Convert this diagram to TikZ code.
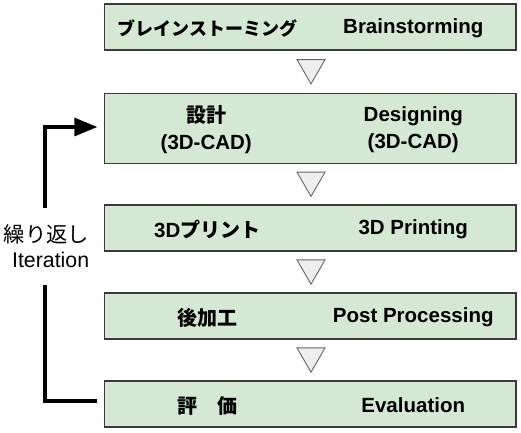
\documentclass[tikz,border=0pt]{standalone}
\usepackage{fontspec}
\setmainfont{Liberation Sans}
\newfontfamily\cjk{Noto Sans CJK JP}
\usetikzlibrary{arrows.meta,shapes.geometric,calc}
\definecolor{boxfill}{HTML}{D5E8D4}
\definecolor{boxline}{HTML}{3A3A3A}
\definecolor{trifill}{HTML}{EEEEEE}
\definecolor{triline}{HTML}{666666}
\tikzset{
  stepbox/.style={draw=boxline, fill=boxfill, line width=1.3bp, minimum width=411.5bp, inner sep=0pt},
  jtxt/.style={font=\cjk\bfseries\fontsize{20bp}{27bp}\selectfont, align=center, inner sep=0pt},
  etxt/.style={font=\bfseries\fontsize{20.5bp}{27bp}\selectfont, align=center, inner sep=0pt},
  downtri/.style={regular polygon, regular polygon sides=3, shape border rotate=180, draw=triline, fill=trifill, line width=0.9bp, minimum size=32.3bp, inner sep=0pt},
  loopline/.style={line width=3.2bp, black},
  looplabel/.style={font=\fontsize{21.3bp}{25bp}\selectfont, align=right, inner sep=0pt, minimum height=77bp, minimum width=10bp}
}
\begin{document}
\begin{tikzpicture}[x=1bp, y=-1bp]
\useasboundingbox (0,0) rectangle (521,433);
% boxes
\node[stepbox, minimum height=46bp] (b1) at (310.25,27) {};
\node[stepbox, minimum height=70bp] (b2) at (310.25,128.5) {};
\node[stepbox, minimum height=46bp] (b3) at (310.25,228) {};
\node[stepbox, minimum height=46bp] (b4) at (310.25,316) {};
\node[stepbox, minimum height=46bp] (b5) at (310.25,404) {};
% texts
\node[jtxt, font=\cjk\bfseries\fontsize{18bp}{22bp}\selectfont] (j1) at ($(b1.center)+(-103,1.5)$) {ブレインストーミング};
\node[etxt] (e1) at ($(b1.center)+(103,1.5)$) {Brainstorming};
\node[jtxt] (j2) at ($(b2.center)+(-104,1.5)$) {設計\\{\bfseries\rmfamily\fontsize{20.5bp}{27bp}\selectfont (3D-CAD)}};
\node[etxt] (e2) at ($(b2.center)+(103,1.5)$) {Designing\\(3D-CAD)};
\node[jtxt] (j3) at ($(b3.center)+(-103,1.5)$) {{\rmfamily\bfseries\fontsize{20.5bp}{27bp}\selectfont 3D}プリント};
\node[etxt] (e3) at ($(b3.center)+(103,1.5)$) {3D Printing};
\node[jtxt] (j4) at ($(b4.center)+(-103,1.5)$) {後加工};
\node[etxt] (e4) at ($(b4.center)+(103,1.5)$) {Post Processing};
\node[jtxt] (j5) at ($(b5.center)+(-103,1.5)$) {評　価};
\node[etxt] (e5) at ($(b5.center)+(103,1.5)$) {Evaluation};
% triangles
\node[downtri] (t1) at ($(b1.south)!0.5!(b2.north)+(0.75,-4)$) {};
\node[downtri] (t2) at ($(b2.south)!0.5!(b3.north)+(0.75,-4)$) {};
\node[downtri] (t3) at ($(b3.south)!0.5!(b4.north)+(0.75,-4)$) {};
\node[downtri] (t4) at ($(b4.south)!0.5!(b5.north)+(0.75,-4)$) {};
% loop
\node[looplabel] (lab) at (46.5,246.5) {{\cjk 繰り返し}\\Iteration};
\draw[loopline] ([yshift=3bp]b5.west) ++(-6.5,0) coordinate (lb) -| ([xshift=-1.5bp]lab.south);
\draw[loopline, -{Triangle[length=23bp,width=18bp]}, shorten >=6.5bp] ([xshift=-1.5bp]lab.north) |- ([yshift=1.5bp]b2.west);
\end{tikzpicture}
\end{document}
